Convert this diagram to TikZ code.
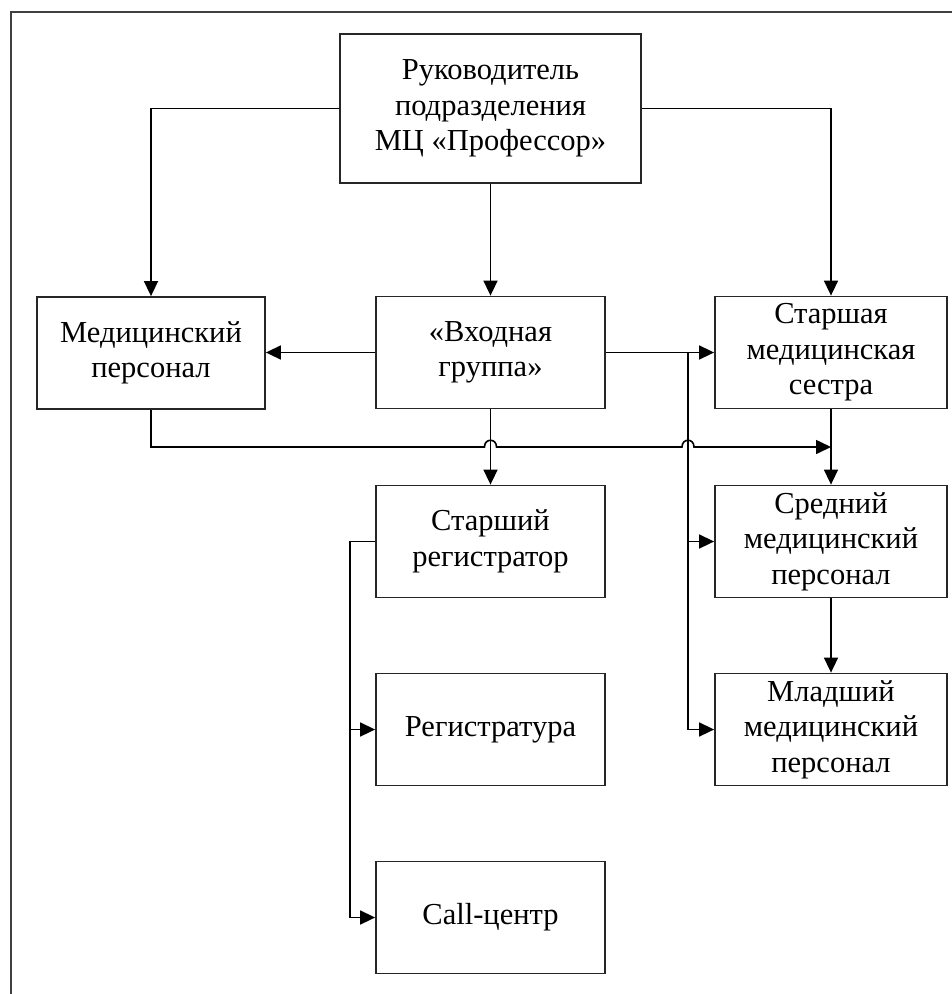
\documentclass[tikz,border=0pt]{standalone}
\usepackage{fontspec}
\setmainfont{Liberation Serif}
\usetikzlibrary{arrows.meta}
\begin{document}
\begin{tikzpicture}[x=1pt,y=-1pt,
  box/.style={draw=black!85,line width=1.8pt,fill=white,align=center,
    font=\fontsize{30.5}{35.5}\selectfont,inner sep=0pt},
  wide/.style={minimum width=229pt,minimum height=112pt},
  link/.style={line width=1.6pt,black},
  arr/.style={link,-{Triangle[length=15pt,width=14pt]}}]
\useasboundingbox (0,0) rectangle (952,994);
% outer frame (only its top and left edges fall inside the page)
\draw[line width=2.2pt,black!75] (11,994) -- (11,12) -- (952,12);

% boxes
\node[box,minimum width=301pt,minimum height=149pt] (head) at (490.5,108.5)
  {Руководитель\\подразделения\\МЦ «Профессор»};
\node[box,minimum width=228pt,minimum height=112pt] (med) at (151,353)
  {Медицинский\\персонал};
\node[box,wide] (entry) at (490.5,352.5) {«Входная\\группа»};
\node[box,minimum width=232pt,minimum height=112pt] (nurse) at (831,352.5)
  {Старшая\\медицинская\\сестра};
\node[box,wide] (chiefreg) at (490.5,541.5) {Старший\\регистратор};
\node[box,minimum width=232pt,minimum height=112pt] (mid) at (831,541.5)
  {Средний\\медицинский\\персонал};
\node[box,wide] (reg) at (490.5,729.5) {Регистратура};
\node[box,minimum width=232pt,minimum height=112pt] (junior) at (831,729.5)
  {Младший\\медицинский\\персонал};
\node[box,wide] (call) at (490.5,917.5) {Call-центр};

% branch points
\coordinate (ebus) at (688,352.5);
\coordinate (rbus) at (350,541.5);

% connectors from the head
\draw[arr] (head.south) -- (entry.north);
\draw[arr] (head.west) -| (med.north);
\draw[arr] (head.east) -| (nurse.north);

% connectors from the entry group
\draw[arr] (entry.west) -- (entry.west -| med.east);
\draw[arr] (entry.east) -- (nurse.west);
\draw[arr] (ebus) |- (mid.west);
\draw[arr] (ebus) |- (junior.west);
\draw[arr] (entry.south) -- (chiefreg.north);

% nursing chain
\draw[arr] (nurse.south) -- (mid.north);
\draw[arr] (mid.south) -- (junior.north);

% medical staff line with hops over the two verticals
\coordinate (mturn) at (151,447);
\draw[arr] (med.south) -- (mturn) -- (484.5,447)
  .. controls (484.5,438) and (496.5,438) .. (496.5,447)
  -- (682,447)
  .. controls (682,438) and (694,438) .. (694,447)
  -- (nurse.south |- mturn);

% registry branches
\draw[arr] (chiefreg.west) -- (rbus) |- (call.west);
\draw[arr] (rbus |- reg.west) -- (reg.west);
\end{tikzpicture}
\end{document}
